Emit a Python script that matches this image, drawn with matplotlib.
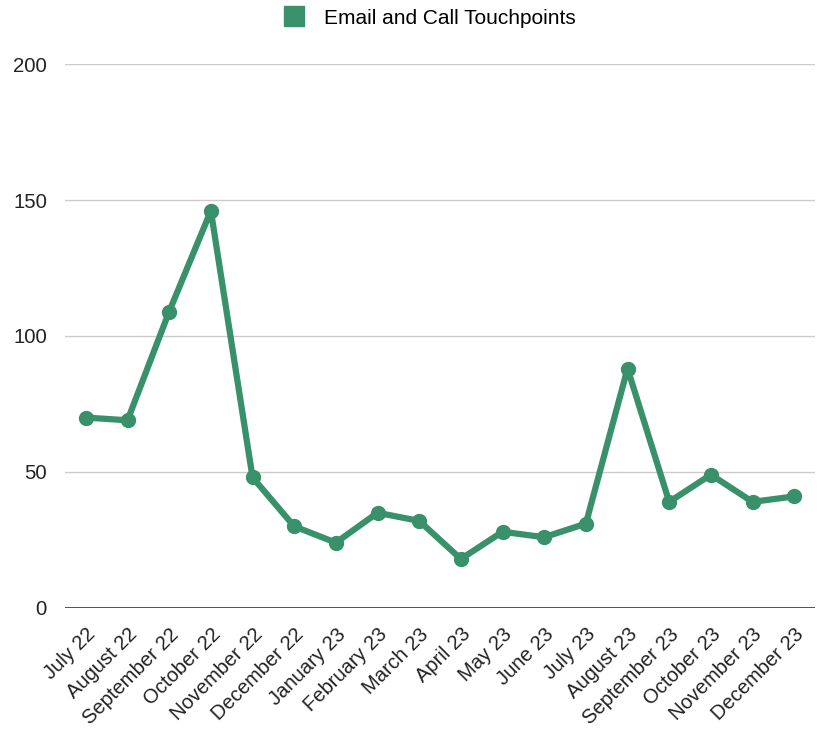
import matplotlib
matplotlib.use("Agg")
import matplotlib.pyplot as plt
from matplotlib.lines import Line2D

months = ["July 22", "August 22", "September 22", "October 22", "November 22",
          "December 22", "January 23", "February 23", "March 23", "April 23",
          "May 23", "June 23", "July 23", "August 23", "September 23",
          "October 23", "November 23", "December 23"]
touchpoints = [70, 69, 109, 146, 48, 30, 24, 35, 32, 18, 28, 26, 31, 88, 39, 49, 39, 41]
yticks = [0, 50, 100, 150, 200]
series_name = "Email and Call Touchpoints"

plt.rcParams['font.family'] = ['Liberation Sans', 'DejaVu Sans']
color = "#38916a"

fig = plt.figure(figsize=(8.17, 7.36), dpi=100)
ax = fig.add_axes([0.0796, 0.174, 0.918, 0.739])

x = list(range(len(months)))
ax.plot(x, touchpoints, color=color, linewidth=4.5, marker='o', markersize=10,
        solid_capstyle='round', solid_joinstyle='round', zorder=3)

ax.set_xlim(-0.5, len(months) - 0.5)
ax.set_ylim(0, 200)
ax.set_yticks(yticks)
ax.set_yticklabels([str(v) for v in yticks], fontsize=14.7, color="#222222")
ax.set_xticks(x)
ax.set_xticklabels(months, rotation=45, ha='right', rotation_mode='anchor',
                   fontsize=14.5, color="#222222")
ax.tick_params(axis='both', length=0)
ax.tick_params(axis='y', pad=13)
ax.tick_params(axis='x', pad=12)

for v in yticks[1:]:
    ax.axhline(v, color="#cccccc", linewidth=1, zorder=1)
ax.axhline(0, color="#333333", linewidth=1.2, zorder=2)
for s in ax.spines.values():
    s.set_visible(False)

handle = Line2D([], [], linestyle='none', marker='s', markersize=14.5,
                markerfacecolor=color, markeredgecolor=color)
fig.legend([handle], [series_name], loc='center', bbox_to_anchor=(0.52, 1 - 18 / 736),
           frameon=False, fontsize=15, handletextpad=0.45, borderpad=0)

fig.savefig("out.png", dpi=100)
